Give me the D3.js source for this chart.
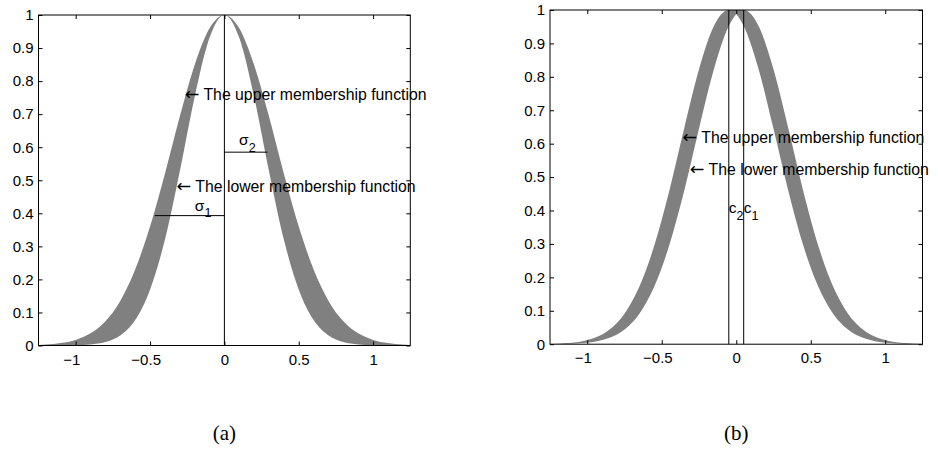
<!DOCTYPE html>
<html><head><meta charset="utf-8">
<script src="https://cdn.jsdelivr.net/npm/d3@7"></script>
<style>
html,body{margin:0;padding:0;background:#fff;}
svg{display:block;}
</style></head><body>
<svg id="chart" width="938" height="461"></svg>
<script>
// ---------------- data ----------------
const xTicks = [-1, -0.5, 0, 0.5, 1];
const xTickLabels = ["−1", "−0.5", "0", "0.5", "1"];
const yTicks = [0, 0.1, 0.2, 0.3, 0.4, 0.5, 0.6, 0.7, 0.8, 0.9, 1];
const yTickLabels = ["0", "0.1", "0.2", "0.3", "0.4", "0.5", "0.6", "0.7", "0.8", "0.9", "1"];

// panel (a): Gaussian MF with uncertain width (upper / lower membership)
const xA = [-1.25, -1.2, -1.1, -1.0, -0.9, -0.8, -0.7, -0.6, -0.5, -0.4, -0.3, -0.2, -0.1, 0,
            0.1, 0.2, 0.3, 0.4, 0.5, 0.6, 0.7, 0.8, 0.9, 1.0, 1.1, 1.2, 1.25];
const upperA = [0.0017, 0.0028, 0.0072, 0.0169, 0.0367, 0.0734, 0.135, 0.230, 0.360, 0.520, 0.693, 0.849, 0.960, 1,
                0.960, 0.849, 0.693, 0.520, 0.360, 0.230, 0.135, 0.0734, 0.0367, 0.0169, 0.0072, 0.0028, 0.0017];
const lowerA = [0, 0, 0.0002, 0.0008, 0.0031, 0.0105, 0.0305, 0.077, 0.169, 0.320, 0.527, 0.752, 0.931, 1,
                0.931, 0.752, 0.527, 0.320, 0.169, 0.077, 0.0305, 0.0105, 0.0031, 0.0008, 0.0002, 0, 0];
const sigmaLinesA = [ {x0: -0.468, x1: 0, y: 0.393}, {x0: 0, x1: 0.29, y: 0.585} ];
const sigmaLabelsA = [ {x: -0.199, y: 0.408, main: "σ", sub: "1"}, {x: 0.099, y: 0.607, main: "σ", sub: "2"} ];
const notesA = [ {x: -0.267, y: 0.743, text: "The upper membership function"},
                 {x: -0.322, y: 0.465, text: "The lower membership function"} ];

// panel (b): Gaussian MF with uncertain mean
const xB = [-1.25, -1.15, -1.05, -0.95, -0.85, -0.75, -0.65, -0.55, -0.45, -0.35, -0.25, -0.15, -0.05, 0,
            0.05, 0.15, 0.25, 0.35, 0.45, 0.55, 0.65, 0.75, 0.85, 0.95, 1.05, 1.15, 1.25];
const upperB = [0.0009, 0.0027, 0.0076, 0.0192, 0.0439, 0.0914, 0.1724, 0.2950, 0.4578, 0.6444, 0.8226, 0.9523, 1, 1,
                1, 0.9523, 0.8226, 0.6444, 0.4578, 0.2950, 0.1724, 0.0914, 0.0439, 0.0192, 0.0076, 0.0027, 0.0009];
const lowerB = [0.0003, 0.0009, 0.0027, 0.0076, 0.0192, 0.0439, 0.0914, 0.1724, 0.2950, 0.4578, 0.6444, 0.8226, 0.9523, 0.9879,
                0.9523, 0.8226, 0.6444, 0.4578, 0.2950, 0.1724, 0.0914, 0.0439, 0.0192, 0.0076, 0.0027, 0.0009, 0.0003];
const centersB = [-0.05, 0.05];
const centerLabelsB = [ {x: -0.05, y: 0.392, main: "c", sub: "2"}, {x: 0.05, y: 0.392, main: "c", sub: "1"} ];
const notesB = [ {x: -0.361, y: 0.601, text: "The upper membership function"},
                 {x: -0.312, y: 0.506, text: "The lower membership function"} ];

// ---------------- drawing ----------------
const FONT = "'Liberation Sans', Arial, Helvetica, sans-serif";
const svg = d3.select("#chart");
const defs = svg.append("defs");

function drawPanel(cfg) {
  const x = d3.scaleLinear().domain([-1.25, 1.25]).range([cfg.left, cfg.right]);
  const y = d3.scaleLinear().domain([0, 1]).range([cfg.bottom, cfg.top]);
  const g = svg.append("g");
  const clipId = "clip" + cfg.id;
  defs.append("clipPath").attr("id", clipId).append("rect")
    .attr("x", cfg.left).attr("y", cfg.top)
    .attr("width", cfg.right - cfg.left).attr("height", cfg.bottom - cfg.top);

  // band between upper and lower membership functions
  const line = d3.line().x(d => x(d[0])).y(d => y(d[1])).curve(d3.curveMonotoneX);
  const upPts = cfg.xs.map((v, i) => [v, cfg.up[i]]);
  const loPts = cfg.xs.map((v, i) => [v, cfg.lo[i]]);
  const breaks = [-Infinity, ...cfg.cusps, Infinity];
  let d = line(upPts);
  for (let k = breaks.length - 1; k > 0; k--) {
    const seg = loPts.filter(p => p[0] >= breaks[k - 1] && p[0] <= breaks[k]).reverse();
    d += line(seg).replace(/^M/, "L");
  }
  d += "Z";
  g.append("path").attr("d", d).attr("fill", "#808080").attr("clip-path", `url(#${clipId})`);

  // vertical reference lines
  cfg.vlines.forEach(v => {
    g.append("line").attr("x1", x(v)).attr("x2", x(v)).attr("y1", y(0)).attr("y2", y(1))
      .attr("stroke", "#000").attr("stroke-width", 1);
  });
  // horizontal (sigma) lines
  (cfg.hlines || []).forEach(h => {
    g.append("line").attr("x1", x(h.x0)).attr("x2", x(h.x1)).attr("y1", y(h.y)).attr("y2", y(h.y))
      .attr("stroke", "#000").attr("stroke-width", 1);
  });
  // subscript labels
  cfg.subLabels.forEach(s => {
    const t = g.append("text").attr("x", x(s.x)).attr("y", y(s.y))
      .attr("font-family", FONT).attr("font-size", 15.5).attr("fill", "#000");
    t.append("tspan").text(s.main);
    t.append("tspan").attr("font-size", 12.5).attr("dy", 6.7).text(s.sub);
  });
  // notes with left arrow
  cfg.notes.forEach(n => {
    const t = g.append("text").attr("x", x(n.x)).attr("y", y(n.y))
      .attr("font-family", FONT).attr("font-size", 15.8).attr("fill", "#000");
    t.append("tspan").attr("font-family", "'DejaVu Sans', sans-serif").attr("font-size", 17.5).text("←");
    t.append("tspan").text(" " + n.text);
  });

  // box
  g.append("rect").attr("x", cfg.left).attr("y", cfg.top)
    .attr("width", cfg.right - cfg.left).attr("height", cfg.bottom - cfg.top)
    .attr("fill", "none").attr("stroke", "#000").attr("stroke-width", 1);

  // axes (MATLAB style, inward ticks on all sides)
  const styleAxis = s => {
    s.select(".domain").remove();
    s.attr("font-family", FONT).attr("font-size", 15);
    s.selectAll(".tick line").attr("stroke", "#000");
    s.selectAll(".tick text").attr("fill", "#000");
  };
  const gb = g.append("g").attr("transform", `translate(0,${cfg.bottom})`)
    .call(d3.axisBottom(x).tickValues(xTicks).tickSize(-4).tickPadding(cfg.xPad)
      .tickFormat((v, i) => xTickLabels[i]))
    .call(styleAxis);
  gb.selectAll(".tick text").each(function () {
    const t = d3.select(this);
    const s = t.text();
    if (s.startsWith("−")) {
      t.text(s.slice(1));
      const w = this.getComputedTextLength();
      d3.select(this.parentNode).append("text")
        .attr("fill", "#000").attr("y", t.attr("y")).attr("dy", t.attr("dy"))
        .attr("x", -w / 2).attr("text-anchor", "end").text("−");
    }
  });
  g.append("g").attr("transform", `translate(0,${cfg.top})`)
    .call(d3.axisTop(x).tickValues(xTicks).tickSize(-4).tickFormat(""))
    .call(styleAxis);
  g.append("g").attr("transform", `translate(${cfg.left},0)`)
    .call(d3.axisLeft(y).tickValues(yTicks).tickSize(-4).tickPadding(5)
      .tickFormat((v, i) => yTickLabels[i]))
    .call(styleAxis);
  g.append("g").attr("transform", `translate(${cfg.right},0)`)
    .call(d3.axisRight(y).tickValues(yTicks).tickSize(-4).tickFormat(""))
    .call(styleAxis);

  // caption
  svg.append("text").attr("x", (cfg.left + cfg.right) / 2).attr("y", cfg.captionY)
    .attr("text-anchor", "middle").attr("font-family", "'Liberation Serif', 'Times New Roman', serif")
    .attr("font-size", 21).attr("fill", "#000").text(cfg.caption);
}

drawPanel({
  id: "A", left: 38.5, right: 410.3, top: 15, bottom: 345.5, xPad: 9,
  xs: xA, up: upperA, lo: lowerA, cusps: [],
  vlines: [0], hlines: sigmaLinesA, subLabels: sigmaLabelsA, notes: notesA,
  caption: "(a)", captionY: 440
});
drawPanel({
  id: "B", left: 550, right: 922.5, top: 10, bottom: 344.2, xPad: 8,
  xs: xB, up: upperB, lo: lowerB, cusps: [0],
  vlines: centersB, hlines: [], subLabels: centerLabelsB, notes: notesB,
  caption: "(b)", captionY: 440
});
</script>
</body></html>
